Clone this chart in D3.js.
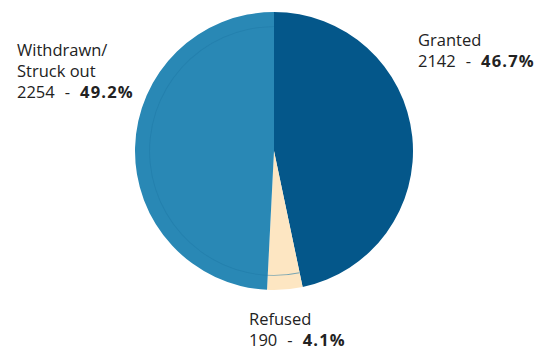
<!DOCTYPE html>
<html>
<head>
<meta charset="utf-8">
<script src="https://cdn.jsdelivr.net/npm/d3@7/dist/d3.min.js"></script>
<style>
  html, body { margin: 0; padding: 0; background: #fff; }
  svg text { font-family: "Open Sans", "Noto Sans", sans-serif; font-size: 16.5px; fill: #222; }
</style>
</head>
<body>
<svg id="chart" width="537" height="354"></svg>
<script>
// Case outcomes
const categories = ["Granted", "Refused", "Withdrawn/Struck out"];
const counts = [2142, 190, 2254];
const percents = [46.7, 4.1, 49.2];
const colors = ["#04578a", "#fde6c2", "#2988b5"];
// label lines per slice, and anchor for the text block
const labelLines = [["Granted"], ["Refused"], ["Withdrawn/", "Struck out"]];
const labelPos = [[418, 45.5], [249, 324.7], [17, 56.3]];

const svg = d3.select("#chart");
const cx = 274, cy = 151, r = 139;

const pie = d3.pie().sort(null).value(d => d)(percents);
const arc = d3.arc().innerRadius(0).outerRadius(r);

const g = svg.append("g").attr("transform", `translate(${cx},${cy})`);
g.selectAll("path.slice")
  .data(pie)
  .join("path")
  .attr("class", "slice")
  .attr("d", arc)
  .attr("fill", (d, i) => colors[i]);

// faint inner rim across refused and withdrawn slices
const rim = d3.arc().innerRadius(124).outerRadius(124.8)
  .startAngle(pie[1].startAngle).endAngle(pie[2].endAngle);
g.append("path").attr("d", rim()).attr("fill", "#1f7aa6").attr("opacity", 0.6);

const lh = 21;
categories.forEach((c, i) => {
  const [x, y] = labelPos[i];
  const t = svg.append("text").attr("x", x).attr("y", y);
  labelLines[i].forEach((line, j) => {
    t.append("tspan").attr("x", x).attr("y", y + j * lh).text(line);
  });
  const last = t.append("tspan").attr("x", x).attr("y", y + labelLines[i].length * lh);
  last.append("tspan").text(counts[i]);
  last.append("tspan").attr("dx", 10).text("-");
  last.append("tspan").attr("dx", 10)
    .attr("font-weight", "bold")
    .attr("letter-spacing", 1.2)
    .text(d3.format(".1f")(percents[i]) + "%");
});
</script>
</body>
</html>
